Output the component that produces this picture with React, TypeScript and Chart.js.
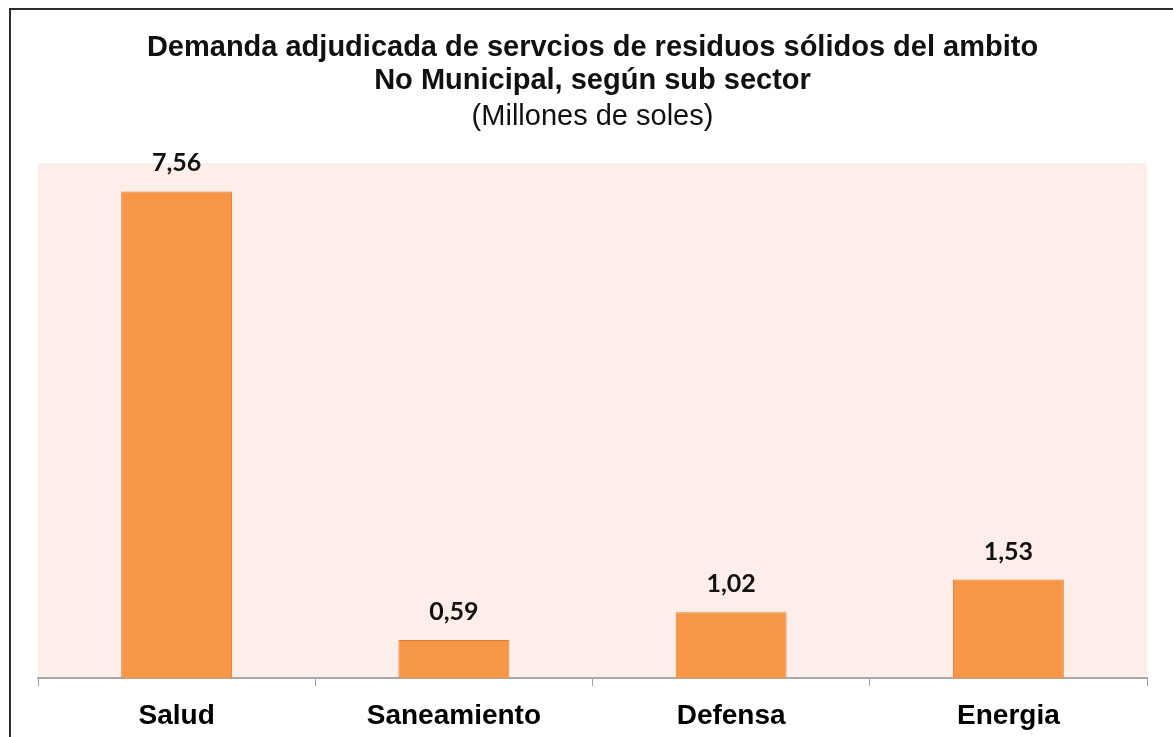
import React, { useEffect, useRef } from "react";
import { Chart, registerables } from "chart.js";

Chart.register(...registerables);

const categories: string[] = ["Salud", "Saneamiento", "Defensa", "Energia"];
const values: number[] = [7.56, 0.59, 1.02, 1.53];
const valueLabels: string[] = ["7,56", "0,59", "1,02", "1,53"];
const titleLines: string[] = [
  "Demanda adjudicada de servcios de residuos sólidos del ambito",
  "No Municipal, según sub sector",
];
const subtitleText = "(Millones de soles)";

const plotBg = {
  id: "plotBg",
  beforeDraw(chart: any) {
    const { ctx, chartArea } = chart;
    ctx.save();
    ctx.fillStyle = "#FDEEE9";
    ctx.fillRect(chartArea.left, chartArea.top, chartArea.right - chartArea.left, chartArea.bottom - chartArea.top);
    ctx.restore();
  },
};

const valueLabelPlugin = {
  id: "valueLabels",
  afterDatasetsDraw(chart: any) {
    const { ctx } = chart;
    const meta = chart.getDatasetMeta(0);
    ctx.save();
    ctx.font = "bold 25px Lato";
    ctx.fillStyle = "#111";
    ctx.textAlign = "center";
    ctx.textBaseline = "alphabetic";
    meta.data.forEach((bar: any, i: number) => {
      ctx.fillText(valueLabels[i], bar.x, bar.y - 20);
    });
    ctx.restore();
  },
};

export default function App() {
  const canvasRef = useRef<HTMLCanvasElement | null>(null);

  useEffect(() => {
    if (!canvasRef.current) return;
    const chart = new Chart(canvasRef.current, {
      type: "bar",
      data: {
        labels: categories,
        datasets: [
          {
            data: values,
            backgroundColor: "#F79646",
            borderColor: "#DD7E38",
            borderWidth: 1,
            barPercentage: 0.4,
            categoryPercentage: 1,
          },
        ],
      },
      options: {
        animation: false,
        responsive: false,
        maintainAspectRatio: false,
        layout: { padding: { left: 38, right: 26, top: 0, bottom: 4 } },
        plugins: {
          legend: { display: false },
          tooltip: { enabled: false },
          title: {
            display: true,
            text: titleLines,
            color: "#111",
            font: { family: "'Liberation Sans', Arial, sans-serif", size: 29, weight: "bold", lineHeight: 1.14 },
            padding: { top: 31, bottom: 0 },
          },
          subtitle: {
            display: true,
            text: subtitleText,
            color: "#111",
            font: { family: "'Liberation Sans', Arial, sans-serif", size: 29, weight: "normal", lineHeight: 1.14 },
            padding: { top: 3, bottom: 30 },
          },
        },
        scales: {
          x: {
            grid: {
              display: true,
              drawOnChartArea: false,
              drawTicks: true,
              tickLength: 8,
              color: "#A0A0A0",
              lineWidth: 1,
            },
            border: { display: true, color: "#A8A8A8", width: 2 },
            ticks: {
              color: "#000",
              padding: 16,
              font: { family: "'Liberation Sans', Arial, sans-serif", size: 28, weight: "bold", lineHeight: 1 },
            },
          },
          y: {
            display: false,
            min: 0,
            max: 8,
          },
        },
      },
      plugins: [plotBg, valueLabelPlugin],
    });
    return () => chart.destroy();
  }, []);

  return (
    <div style={{ position: "fixed", left: 0, top: 0, width: 1173, height: 737, overflow: "hidden", background: "#fff" }}>
      <div
        style={{
          position: "absolute",
          left: 9,
          top: 8,
          width: 1300,
          height: 900,
          borderLeft: "2px solid #2e2e2e",
          borderTop: "2px solid #2e2e2e",
        }}
      />
      <canvas
        ref={canvasRef}
        width={1173}
        height={750}
        style={{ position: "absolute", left: 0, top: 0, width: 1173, height: 750 }}
      />
    </div>
  );
}
